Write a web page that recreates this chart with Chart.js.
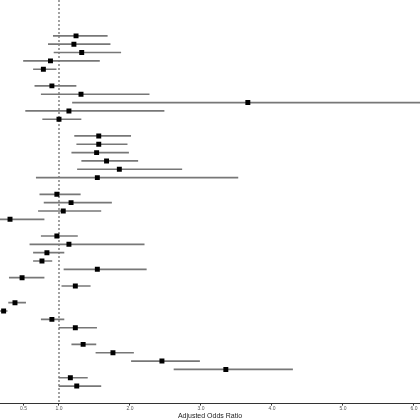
<!DOCTYPE html>
<html>
<head>
<meta charset="utf-8">
<script src="https://cdn.jsdelivr.net/npm/chart.js@4"></script>
<style>
  html, body { margin: 0; padding: 0; background: #fff; }
</style>
</head>
<body>
<canvas id="forestChart" width="420" height="420"></canvas>
<script>
// forest plot: adjusted odds ratios with 95% CI, one row per line (null = blank/header row)

var oddsRatio = [1.24, 1.21, 1.32, 0.88, 0.78, null, 0.90, 1.31, 3.66, 1.14, 1.00, null,
                 1.56, 1.56, 1.53, 1.67, 1.85, 1.54, null, 0.97, 1.17, 1.06, 0.31, null,
                 0.97, 1.14, 0.83, 0.76, 1.54, 0.48, 1.23, null, 0.38, 0.22, 0.90, 1.23, null,
                 1.34, 1.76, 2.45, 3.35, 1.16, 1.25];
var ciLower   = [0.92, 0.85, 0.93, 0.50, 0.64, null, 0.66, 0.75, 1.19, 0.53, 0.77, null,
                 1.22, 1.25, 1.18, 1.32, 1.26, 0.68, null, 0.73, 0.79, 0.71, 0.12, null,
                 0.75, 0.59, 0.64, 0.64, 1.07, 0.30, 1.04, null, 0.29, 0.12, 0.75, 1.00, null,
                 1.18, 1.52, 2.02, 2.62, 1.00, 1.00];
var ciUpper   = [1.68, 1.72, 1.87, 1.57, 0.96, null, 1.24, 2.27, 7.00, 2.48, 1.31, null,
                 2.01, 1.96, 1.98, 2.11, 2.73, 3.52, null, 1.30, 1.74, 1.59, 0.79, null,
                 1.26, 2.20, 1.07, 0.90, 2.23, 0.79, 1.44, null, 0.53, 0.27, 1.07, 1.53, null,
                 1.52, 2.05, 2.98, 4.29, 1.40, 1.59];
var xTicks = [0.5, 1.0, 2.0, 3.0, 4.0, 5.0, 6.0];
var refValue = 1.0;

var ciData = [];
var pointData = [];
for (var i = 0; i < oddsRatio.length; i++) {
    if (oddsRatio[i] === null) continue;
    ciData.push({ y: i, x: [ciLower[i], ciUpper[i]] });
    pointData.push({ x: oddsRatio[i], y: i });
}

var yMin = -4.3;
var yMax = oddsRatio.length - 1 + 2.1;

var ctx = document.getElementById("forestChart").getContext('2d');
var forestChart = new Chart(ctx, {
    type: 'bar',
    data: {
        datasets: [
            {
                // reference line at OR = 1
                type: 'line',
                data: [{ x: refValue, y: yMin }, { x: refValue, y: yMax }],
                borderColor: '#444',
                borderWidth: 1,
                borderDash: [2, 2],
                pointRadius: 0,
                order: 3
            },
            {
                // confidence intervals
                type: 'bar',
                data: ciData,
                backgroundColor: '#777',
                borderWidth: 0,
                barThickness: 1,
                order: 2
            },
            {
                // point estimates
                type: 'scatter',
                data: pointData,
                pointStyle: 'rect',
                pointRadius: 3.5,
                pointBorderWidth: 0,
                backgroundColor: '#000',
                borderColor: '#000',
                order: 1
            }
        ]
    },
    options: {
        indexAxis: 'y',
        responsive: false,
        animation: false,
        devicePixelRatio: 1,
        layout: { padding: 0, autoPadding: false },
        plugins: {
            legend: { display: false },
            tooltip: { enabled: false }
        },
        scales: {
            x: {
                type: 'linear',
                min: 0.169,
                max: 6.085,
                offset: false,
                afterBuildTicks: function (axis) {
                    axis.ticks = xTicks.map(function (v) { return { value: v }; });
                },
                ticks: {
                    font: { family: 'Liberation Sans', size: 5 },
                    color: '#555',
                    padding: 0,
                    maxRotation: 0,
                    callback: function (v) { return v.toFixed(1); }
                },
                grid: {
                    drawOnChartArea: false,
                    tickLength: 2,
                    color: '#333'
                },
                border: { color: '#333', width: 1 },
                title: {
                    display: true,
                    text: 'Adjusted Odds Ratio',
                    font: { family: 'Liberation Sans', size: 7 },
                    color: '#222',
                    padding: { top: 0, bottom: 0 }
                }
            },
            y: {
                type: 'linear',
                reverse: true,
                offset: false,
                min: yMin,
                max: yMax,
                display: false
            }
        }
    }
});
</script>
</body>
</html>
